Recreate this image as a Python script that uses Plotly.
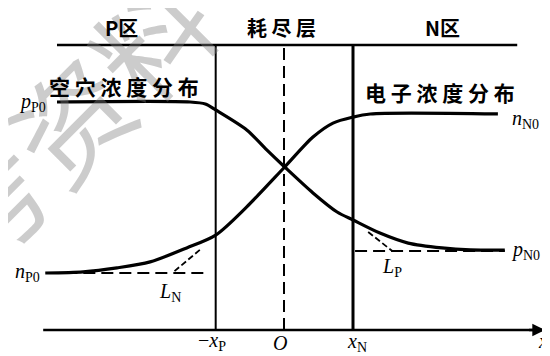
import plotly.graph_objects as go

# ---- data (arbitrary units: x in units of x_N, y concentration scale) ----
hole_x = [-3.29, -1.36, -1.14, -0.99, -0.54, -0.25, 0.01, 0.42, 0.77, 1.00, 1.39, 1.80, 2.29, 2.70, 3.20]
hole_y = [8.00, 8.00, 7.93, 7.72, 7.02, 6.32, 5.72, 4.81, 4.14, 3.86, 3.40, 3.05, 2.88, 2.81, 2.80]

elec_x = [-3.46, -2.91, -2.42, -1.94, -1.41, -0.99, -0.54, 0.01, 0.42, 0.71, 1.00, 1.25, 3.10]
elec_y = [2.00, 2.04, 2.18, 2.39, 2.88, 3.33, 4.32, 5.72, 6.77, 7.26, 7.47, 7.58, 7.58]

x_P_neg = -0.99
x_O = 0.0
x_N = 1.00
top_y = 10.0
top_x = [-3.29, 3.38]
axis_x = [-3.49, 3.78]

nP0_line_x = [-3.43, -1.12]
nP0_level = 2.0
pN0_line_x = [1.03, 3.20]
pN0_level = 2.77

LN_tan_x = [-1.22, -1.62]
LN_tan_y = [2.81, 2.00]
LP_tan_x = [1.22, 1.57]
LP_tan_y = [3.44, 2.77]

region_labels = ["P区", "耗 尽 层", "N区"]
region_x = [-2.35, -0.03, 2.30]
region_y = [10.6, 10.6, 10.63]

dist_labels = ["空 穴 浓 度 分 布", "电 子 浓 度 分 布"]
dist_x = [-2.32, 2.26]
dist_y = [8.56, 8.35]

math_labels = ["<i>p</i><sub>P0</sub>", "<i>n</i><sub>P0</sub>", "<i>n</i><sub>N0</sub>",
               "<i>p</i><sub>N0</sub>", "<i>L</i><sub>N</sub>", "<i>L</i><sub>P</sub>",
               "−<i>x</i><sub>P</sub>", "<i>O</i>", "<i>x</i><sub>N</sub>", "<i>x</i>"]
math_x = [-3.64, -3.72, 3.50, 3.50, -1.65, 1.57, -1.04, -0.06, 1.06, 3.76]
math_y = [8.0, 2.03, 7.37, 2.80, 1.30, 2.18, -0.40, -0.44, -0.44, -0.40]

# page has an 8px body margin: figure spans screen px 8..550 x 8..356
W, H = 542, 348
XR = [-4.0, 3.855]
YR = [-0.912, 11.298]

fig = go.Figure()
blk = "#000000"

# structure lines
fig.add_trace(go.Scatter(x=top_x, y=[top_y, top_y], mode="lines", line=dict(color=blk, width=2.5)))
fig.add_trace(go.Scatter(x=[x_P_neg, x_P_neg], y=[0, top_y], mode="lines", line=dict(color=blk, width=2)))
fig.add_trace(go.Scatter(x=[x_N, x_N], y=[0, top_y], mode="lines", line=dict(color=blk, width=3)))
fig.add_trace(go.Scatter(x=[x_O, x_O], y=[0, top_y], mode="lines",
                         line=dict(color=blk, width=2, dash="12px,6px")))
fig.add_trace(go.Scatter(x=axis_x, y=[0, 0], mode="lines", line=dict(color=blk, width=2.5)))

# dashed equilibrium levels and tangents
fig.add_trace(go.Scatter(x=nP0_line_x, y=[nP0_level, nP0_level], mode="lines",
                         line=dict(color=blk, width=2, dash="12px,6px")))
fig.add_trace(go.Scatter(x=pN0_line_x, y=[pN0_level, pN0_level], mode="lines",
                         line=dict(color=blk, width=2, dash="12px,6px")))
fig.add_trace(go.Scatter(x=LN_tan_x, y=LN_tan_y, mode="lines",
                         line=dict(color=blk, width=1.8, dash="6px,3px")))
fig.add_trace(go.Scatter(x=LP_tan_x, y=LP_tan_y, mode="lines",
                         line=dict(color=blk, width=1.8, dash="6px,3px")))

# carrier distributions
fig.add_trace(go.Scatter(x=hole_x, y=hole_y, mode="lines", line=dict(color=blk, width=3.2, shape="spline", smoothing=0.8)))
fig.add_trace(go.Scatter(x=elec_x, y=elec_y, mode="lines", line=dict(color=blk, width=3.2, shape="spline", smoothing=0.8)))

# watermark (faint)
fig.add_annotation(x=(68 - 8) / W, y=1 - (118 - 8) / H, xref="paper", yref="paper", text="考资料",
                   xanchor="center", yanchor="middle",
                   showarrow=False, textangle=-45,
                   font=dict(family="Noto Sans CJK SC", size=115, color="rgba(128,128,128,0.4)"))

# x-axis arrow
fig.add_annotation(x=axis_x[1], y=0, ax=axis_x[1] - 0.25, ay=0, xref="x", yref="y", axref="x", ayref="y",
                   text="", showarrow=True, arrowhead=2, arrowsize=1, arrowwidth=2.5, arrowcolor=blk)

cjk = dict(family="Noto Sans CJK SC", color=blk, weight="bold")
for t, x, y in zip(region_labels, region_x, region_y):
    fig.add_annotation(x=x, y=y, text=t, showarrow=False, font=dict(size=20, **cjk))
for t, x, y in zip(dist_labels, dist_x, dist_y):
    fig.add_annotation(x=x, y=y, text=t, showarrow=False, font=dict(size=21, **cjk))
for t, x, y in zip(math_labels, math_x, math_y):
    fig.add_annotation(x=x, y=y, text=t, showarrow=False,
                       font=dict(family="Liberation Serif", size=20, color=blk))

fig.update_layout(
    width=W, height=H, margin=dict(l=0, r=0, t=0, b=0),
    paper_bgcolor="white", plot_bgcolor="white", showlegend=False,
    xaxis=dict(range=XR, visible=False, fixedrange=True),
    yaxis=dict(range=YR, visible=False, fixedrange=True),
)
fig.write_html("out.html")
